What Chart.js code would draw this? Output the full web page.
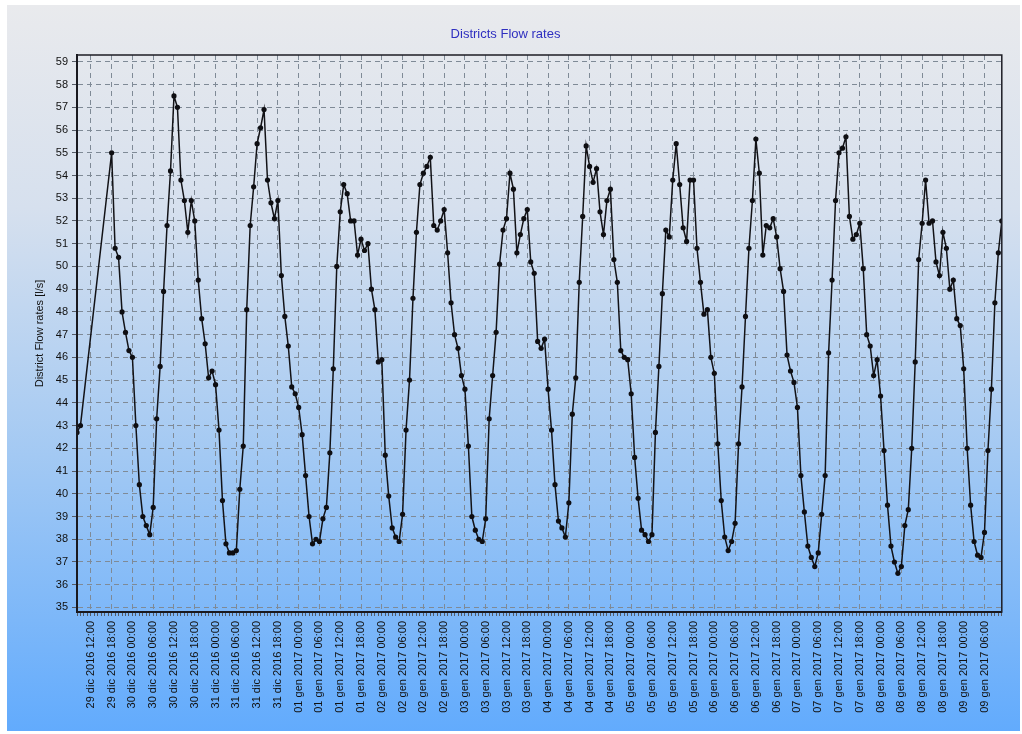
<!DOCTYPE html>
<html>
<head>
<meta charset="utf-8">
<title>Districts Flow rates</title>
<script src="https://cdn.jsdelivr.net/npm/chart.js@4/dist/chart.umd.min.js"></script>
<style>
  html, body { margin: 0; padding: 0; background: #ffffff; }
  #panel {
    position: absolute; left: 7px; top: 5px; width: 1013px; height: 726px;
    background: linear-gradient(to bottom, #e9eaed 0%, #d6e0ee 28%, #a3c9f3 62%, #62abfd 100%);
  }
</style>
</head>
<body>
<div id="panel"><canvas id="flowChart" width="1013" height="726"></canvas></div>
<script>
// hourly readings, first one is 29 dic 2016 08:00 (hour 0)
// the logger has a hole on the first day, 10:00 -> 17:00
const flowRates = [
    42.7, 43.0, null, null, null, null, null, null, null, null,
    // 29 dic 18:00 ->
    55.0, 50.8, 50.4, 48.0, 47.1, 46.3, 46.0, 43.0, 40.4, 39.0, 38.6, 38.2,
    39.4, 43.3, 45.6, 48.9, 51.8, 54.2, 57.5, 57.0, 53.8, 52.9, 51.5, 52.9, 52.0,
    49.4, 47.7, 46.6, 45.1, 45.4, 44.8, 42.8, 39.7, 37.8, 37.4, 37.4, 37.5,
    40.2, 42.1, 48.1, 51.8, 53.5, 55.4, 56.1, 56.9, 53.8, 52.8, 52.1, 52.9,
    49.6, 47.8, 46.5, 44.7, 44.4, 43.8, 42.6, 40.8, 39.0, 37.8, 38.0, 37.9,
    38.9, 39.4, 41.8, 45.5, 50.0, 52.4, 53.6, 53.2, 52.0, 52.0, 50.5, 51.2,
    50.7, 51.0, 49.0, 48.1, 45.8, 45.9, 41.7, 39.9, 38.5, 38.1, 37.9,
    39.1, 42.8, 45.0, 48.6, 51.5, 53.6, 54.1, 54.4, 54.8, 51.8, 51.6, 52.0,
    52.5, 50.6, 48.4, 47.0, 46.4, 45.2, 44.6, 42.1, 39.0, 38.4, 38.0, 37.9,
    38.9, 43.3, 45.2, 47.1, 50.1, 51.6, 52.1, 54.1, 53.4, 50.6, 51.4, 52.1,
    52.5, 50.2, 49.7, 46.7, 46.4, 46.8, 44.6, 42.8, 40.4, 38.8, 38.5, 38.1,
    39.6, 43.5, 45.1, 49.3, 52.2, 55.3, 54.4, 53.7, 54.3, 52.4, 51.4, 52.9, 53.4,
    50.3, 49.3, 46.3, 46.0, 45.9, 44.4, 41.6, 39.8, 38.4, 38.2, 37.9, 38.2,
    42.7, 45.6, 48.8, 51.6, 51.3, 53.8, 55.4, 53.6, 51.7, 51.1, 53.8, 53.8,
    50.8, 49.3, 47.9, 48.1, 46.0, 45.3, 42.2, 39.7, 38.1, 37.5, 37.9, 38.7,
    42.2, 44.7, 47.8, 50.8, 52.9, 55.6, 54.1, 50.5, 51.8, 51.7, 52.1, 51.3,
    49.9, 48.9, 46.1, 45.4, 44.9, 43.8, 40.8, 39.2, 37.7, 37.2, 36.8, 37.4,
    39.1, 40.8, 46.2, 49.4, 52.9, 55.0, 55.2, 55.7, 52.2, 51.2, 51.4, 51.9,
    49.9, 47.0, 46.5, 45.2, 45.9, 44.3, 41.9, 39.5, 37.7, 37.0, 36.5, 36.8,
    38.6, 39.3, 42.0, 45.8, 50.3, 51.9, 53.8, 51.9, 52.0, 50.2, 49.6, 51.5,
    50.8, 49.0, 49.4, 47.7, 47.4, 45.5, 42.0, 39.5, 37.9, 37.3, 37.2, 38.3,
    41.9, 44.6, 48.4, 50.6, 52.0
];

const tickLabels = [
    '29 dic 2016 12:00', '29 dic 2016 18:00',
    '30 dic 2016 00:00', '30 dic 2016 06:00', '30 dic 2016 12:00', '30 dic 2016 18:00',
    '31 dic 2016 00:00', '31 dic 2016 06:00', '31 dic 2016 12:00', '31 dic 2016 18:00',
    '01 gen 2017 00:00', '01 gen 2017 06:00', '01 gen 2017 12:00', '01 gen 2017 18:00',
    '02 gen 2017 00:00', '02 gen 2017 06:00', '02 gen 2017 12:00', '02 gen 2017 18:00',
    '03 gen 2017 00:00', '03 gen 2017 06:00', '03 gen 2017 12:00', '03 gen 2017 18:00',
    '04 gen 2017 00:00', '04 gen 2017 06:00', '04 gen 2017 12:00', '04 gen 2017 18:00',
    '05 gen 2017 00:00', '05 gen 2017 06:00', '05 gen 2017 12:00', '05 gen 2017 18:00',
    '06 gen 2017 00:00', '06 gen 2017 06:00', '06 gen 2017 12:00', '06 gen 2017 18:00',
    '07 gen 2017 00:00', '07 gen 2017 06:00', '07 gen 2017 12:00', '07 gen 2017 18:00',
    '08 gen 2017 00:00', '08 gen 2017 06:00', '08 gen 2017 12:00', '08 gen 2017 18:00',
    '09 gen 2017 00:00', '09 gen 2017 06:00'
];
const firstTickHour = 4;   // 29 dic 12:00
const tickStepHours = 6;

const yTicks = [35, 36, 37, 38, 39, 40, 41, 42, 43, 44, 45, 46, 47,
                48, 49, 50, 51, 52, 53, 54, 55, 56, 57, 58, 59];

const gridGrey = '#7f8a96';
const labelFont = { family: 'Liberation Sans', size: 11 };

function labelIndex(hour) {
    let k = (hour - firstTickHour) / tickStepHours;
    if (Number.isInteger(k) && k >= 0 && k < tickLabels.length) {
        return k;
    }
    return -1;
}

let points = [];
for (let i = 0; i < flowRates.length; i++) {
    points.push({ x: i, y: flowRates[i] });
}

// top and right edge of the plot box
const plotFrame = {
    id: 'plotFrame',
    afterDraw(chart) {
        let a = chart.chartArea;
        let c = chart.ctx;
        c.save();
        c.strokeStyle = '#1c1c24';
        c.lineWidth = 1.5;
        c.strokeRect(a.left, a.top, a.right - a.left, a.bottom - a.top);
        c.restore();
    }
};

let config = {
    type: 'line',
    data: {
        datasets: [{
            label: 'District Flow rates',
            data: points,
            borderColor: '#121216',
            borderWidth: 1.5,
            pointRadius: 2.6,
            pointBackgroundColor: '#0e0e12',
            pointBorderWidth: 0,
            spanGaps: true,
            tension: 0
        }]
    },
    options: {
        responsive: false,
        animation: false,
        layout: { padding: { left: 0, right: 16, top: 0, bottom: 0 } },
        plugins: {
            legend: { display: false },
            tooltip: { enabled: false },
            title: {
                display: true,
                text: 'Districts Flow rates',
                color: '#2f2fc0',
                font: { family: 'Liberation Sans', size: 13, weight: 'normal' },
                padding: { top: 22, bottom: 12.4 }
            }
        },
        scales: {
            x: {
                type: 'linear',
                min: 0,
                max: flowRates.length - 1,
                afterBuildTicks: (scale) => {
                    let t = [];
                    for (let h = 0; h < flowRates.length; h++) t.push({ value: h });
                    scale.ticks = t;
                },
                afterFit: (scale) => { scale.height = 119; },
                ticks: {
                    autoSkip: false,
                    minRotation: 90,
                    maxRotation: 90,
                    padding: 5,
                    color: '#111111',
                    font: labelFont,
                    callback: (value) => {
                        let k = labelIndex(value);
                        return k >= 0 ? tickLabels[k] : '';
                    }
                },
                grid: {
                    color: (c) => (c.tick && labelIndex(c.tick.value) >= 0) ? gridGrey : 'rgba(0,0,0,0)',
                    tickColor: '#555b66',
                    tickLength: 4,
                    lineWidth: 1
                },
                border: { color: '#111111', width: 2, dash: [5, 4] }
            },
            y: {
                min: 34.8,
                max: 59.3,
                afterBuildTicks: (scale) => {
                    scale.ticks = yTicks.map(v => ({ value: v }));
                },
                afterFit: (scale) => { scale.width = 70; },
                ticks: {
                    color: '#111111',
                    font: labelFont,
                    padding: 4
                },
                grid: {
                    color: gridGrey,
                    tickColor: '#555b66',
                    tickLength: 5,
                    lineWidth: 1
                },
                border: { color: '#111111', width: 2, dash: [5, 4] },
                title: {
                    display: true,
                    text: 'District Flow rates [l/s]',
                    color: '#111111',
                    font: labelFont,
                    padding: { top: 26, bottom: 0 }
                }
            }
        }
    },
    plugins: [plotFrame]
};

let flowChart = new Chart(document.getElementById('flowChart'), config);
</script>
</body>
</html>
